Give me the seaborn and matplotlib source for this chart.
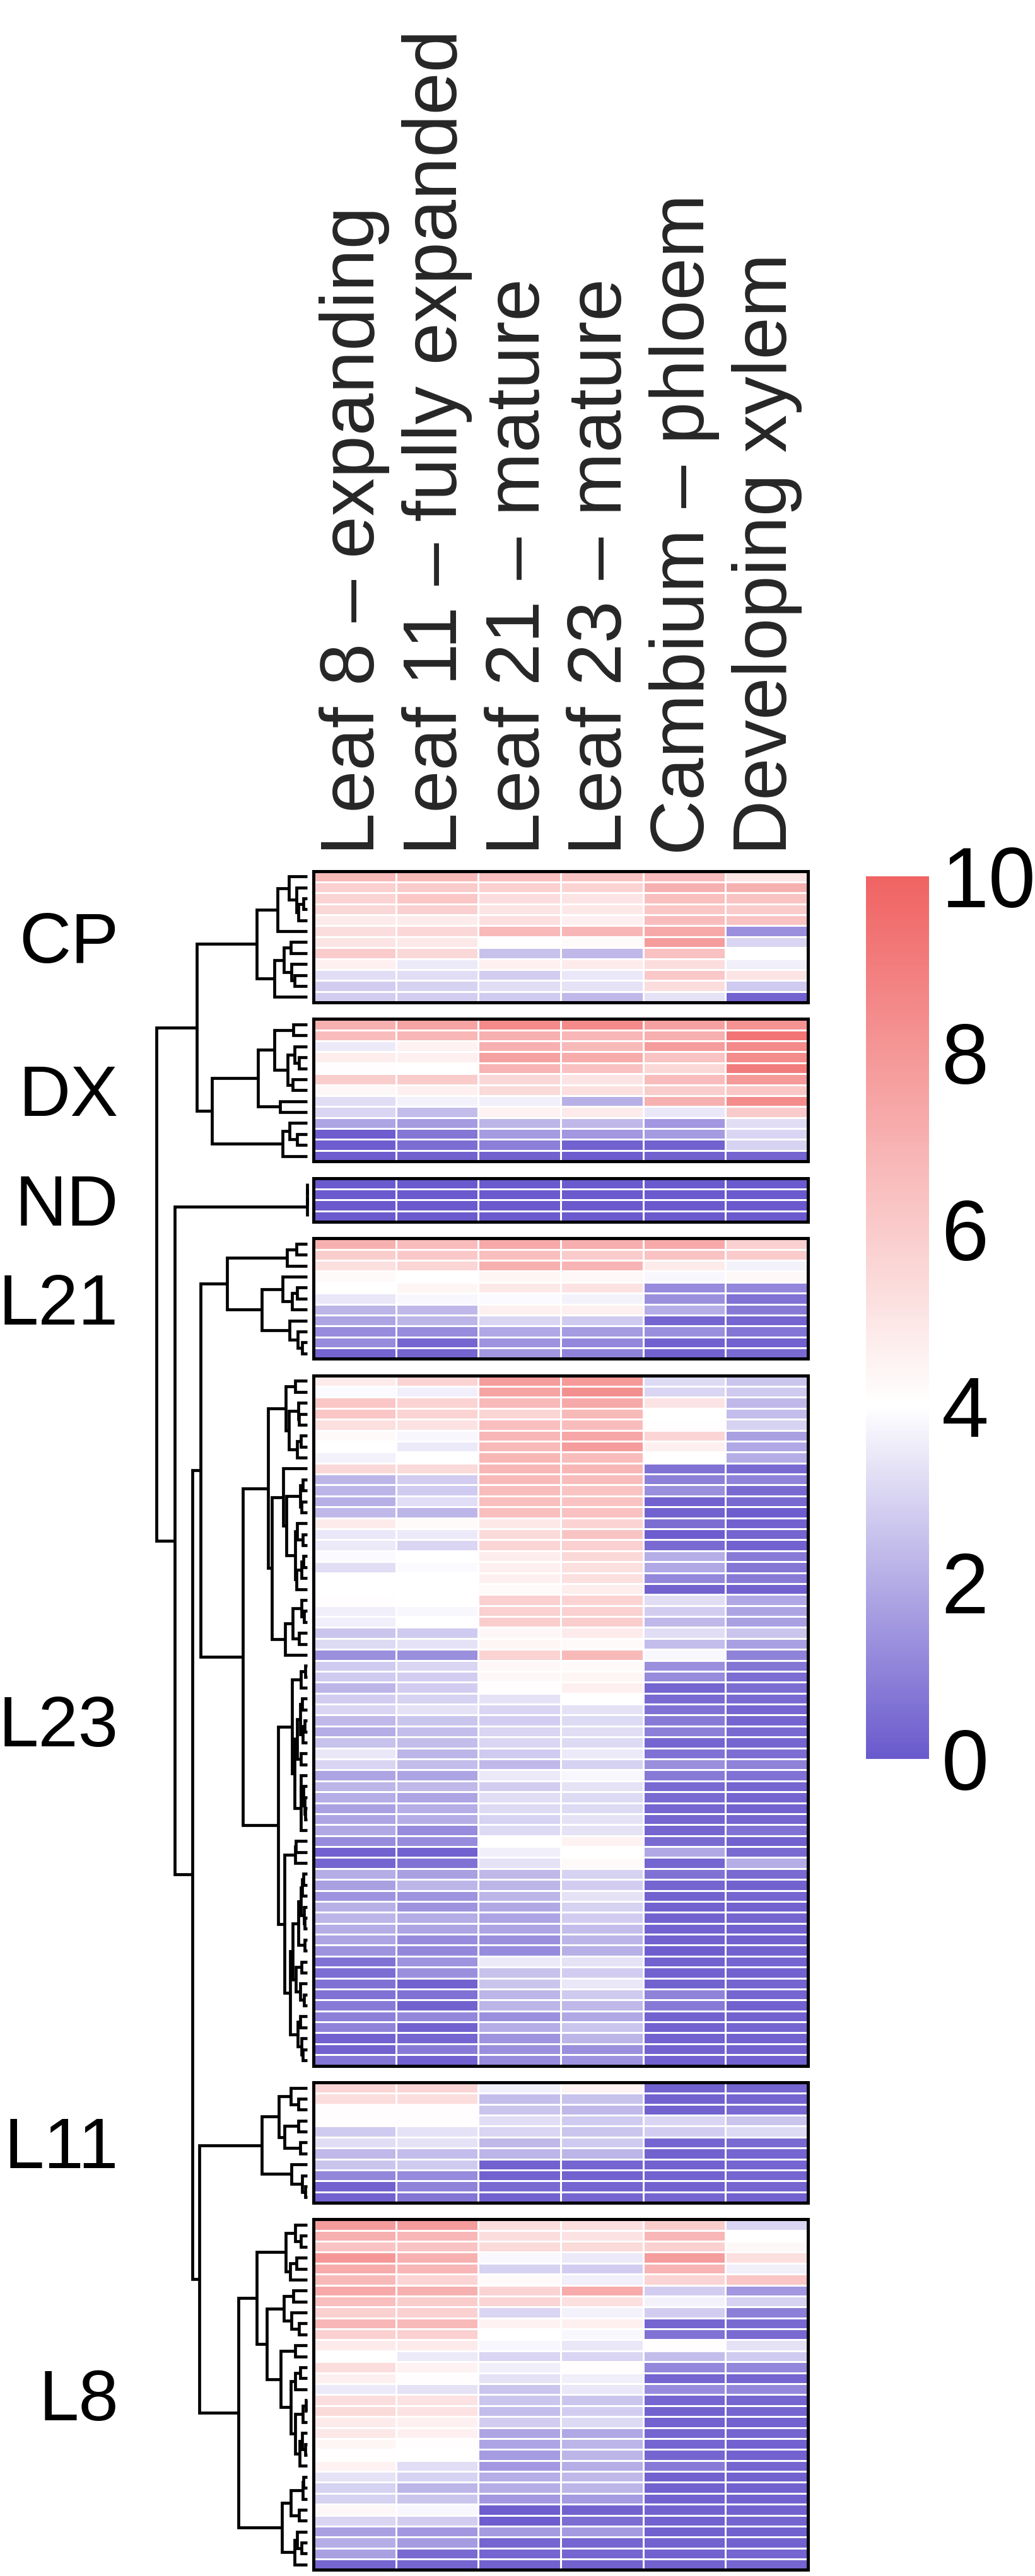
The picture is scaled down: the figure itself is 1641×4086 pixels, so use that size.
import numpy as np
import pandas as pd
import matplotlib
matplotlib.use("Agg")
import matplotlib.pyplot as plt
import seaborn as sns
from matplotlib.colors import LinearSegmentedColormap, Normalize
from matplotlib.cm import ScalarMappable

sns.set_theme(style="white")
plt.rcParams['font.family'] = ['Liberation Sans', 'DejaVu Sans']

# ---------------- data ----------------
col_labels = ["Leaf 8 \u2013 expanding", "Leaf 11 \u2013 fully expanded", "Leaf 21 \u2013 mature",
              "Leaf 23 \u2013 mature", "Cambium \u2013 phloem", "Developing xylem"]
group_names = ["CP", "DX", "ND", "L21", "L23", "L11", "L8"]

cp_values = [
    [6.7, 6.7, 6.5, 6.3, 6.6, 5.0],
    [5.8, 6.0, 5.8, 5.7, 7.0, 7.0],
    [5.7, 6.2, 5.3, 5.0, 6.5, 6.3],
    [5.5, 5.8, 5.0, 4.9, 6.2, 6.0],
    [4.8, 4.8, 5.2, 4.6, 6.6, 6.3],
    [5.3, 5.5, 6.7, 6.8, 7.3, 1.3],
    [5.0, 4.9, 4.1, 4.2, 7.8, 3.0],
    [6.0, 5.5, 2.5, 2.3, 6.4, 4.0],
    [4.6, 3.5, 4.6, 4.8, 5.3, 3.6],
    [3.2, 3.2, 2.8, 3.4, 6.1, 5.0],
    [2.8, 2.9, 3.2, 3.3, 5.3, 2.7],
    [2.8, 2.8, 2.7, 2.3, 3.3, 0.2],
]
dx_values = [
    [7.0, 7.5, 8.5, 8.5, 7.6, 8.2],
    [6.6, 6.8, 7.0, 6.8, 7.0, 9.3],
    [3.5, 4.5, 7.0, 6.7, 7.8, 8.5],
    [4.7, 4.6, 7.6, 7.2, 6.3, 8.4],
    [4.1, 4.0, 6.9, 6.4, 5.5, 9.0],
    [5.9, 6.0, 5.5, 5.0, 6.6, 7.9],
    [4.3, 4.6, 5.4, 5.2, 5.9, 6.2],
    [3.2, 3.7, 3.6, 2.1, 7.0, 8.4],
    [3.0, 2.4, 4.5, 4.8, 3.4, 6.0],
    [1.8, 1.6, 2.2, 2.3, 1.5, 3.2],
    [0.1, 0.7, 1.6, 1.5, 1.6, 3.0],
    [0.1, 0.5, 0.9, 0.2, 0.2, 2.9],
    [0.1, 0.2, 0.2, 0.1, 0.2, 0.3],
]
nd_values = [
    [0.0, 0.0, 0.0, 0.0, 0.0, 0.0],
    [0.0, 0.0, 0.0, 0.0, 0.0, 0.0],
    [0.0, 0.0, 0.0, 0.0, 0.0, 0.0],
    [0.0, 0.0, 0.0, 0.0, 0.0, 0.0],
]
l21_values = [
    [7.0, 6.6, 7.3, 7.1, 7.3, 5.8],
    [5.9, 6.1, 6.5, 6.0, 6.3, 6.0],
    [5.2, 5.6, 7.0, 6.9, 4.8, 3.7],
    [4.2, 4.0, 4.4, 4.3, 3.8, 4.3],
    [4.0, 4.4, 4.9, 5.1, 1.2, 1.1],
    [3.4, 3.8, 3.9, 3.7, 1.3, 0.6],
    [2.2, 2.3, 4.6, 4.6, 2.0, 0.8],
    [1.8, 2.2, 3.0, 2.7, 0.3, 0.3],
    [1.2, 1.2, 1.9, 1.6, 1.3, 0.7],
    [1.2, 0.3, 1.4, 1.1, 0.2, 0.2],
    [0.3, 0.3, 1.5, 1.0, 0.2, 0.4],
]
l23_values = [
    [4.8, 5.7, 7.8, 7.9, 3.1, 2.6],
    [3.9, 3.6, 7.5, 8.3, 3.0, 2.7],
    [6.2, 5.7, 6.7, 7.3, 5.0, 2.3],
    [6.2, 5.7, 5.6, 6.7, 4.0, 2.4],
    [5.2, 5.1, 6.5, 6.6, 4.1, 2.9],
    [4.2, 3.8, 6.8, 7.4, 5.6, 1.7],
    [4.0, 3.5, 6.7, 7.8, 4.6, 1.9],
    [3.7, 4.0, 6.8, 6.6, 4.0, 2.0],
    [5.5, 5.4, 6.8, 6.8, 0.6, 0.4],
    [2.2, 2.8, 6.7, 6.6, 0.9, 1.0],
    [2.2, 2.7, 6.6, 6.3, 1.3, 0.4],
    [2.1, 3.2, 6.5, 6.3, 0.2, 0.4],
    [2.3, 2.2, 6.5, 6.4, 0.2, 0.1],
    [4.8, 4.2, 4.9, 5.7, 0.5, 0.2],
    [3.4, 3.5, 5.4, 6.3, 0.1, 0.3],
    [3.5, 3.0, 5.6, 5.8, 0.4, 0.2],
    [3.9, 4.0, 4.7, 5.5, 2.0, 0.8],
    [3.2, 3.9, 4.6, 5.2, 1.9, 0.7],
    [4.0, 4.0, 4.6, 5.2, 1.1, 0.8],
    [4.0, 4.0, 4.2, 4.7, 0.2, 0.2],
    [4.1, 4.0, 5.8, 5.7, 3.2, 1.9],
    [3.6, 3.8, 5.8, 5.8, 2.8, 1.8],
    [3.6, 4.0, 5.9, 5.9, 2.3, 1.7],
    [2.6, 2.7, 4.3, 4.8, 3.2, 2.6],
    [3.1, 3.3, 4.4, 4.2, 2.4, 1.7],
    [1.3, 1.3, 5.7, 6.7, 3.8, 1.0],
    [2.7, 3.0, 4.3, 4.2, 1.3, 0.7],
    [2.7, 2.8, 4.3, 4.4, 1.2, 0.5],
    [2.2, 2.8, 4.1, 4.6, 0.3, 0.5],
    [2.8, 2.9, 3.3, 4.0, 0.4, 0.4],
    [3.0, 3.3, 3.0, 3.3, 0.6, 0.3],
    [2.3, 2.6, 2.8, 3.1, 0.8, 0.3],
    [2.0, 2.4, 3.0, 3.2, 0.9, 0.4],
    [2.5, 2.4, 3.0, 3.1, 0.3, 0.3],
    [3.4, 2.2, 2.7, 3.5, 0.6, 0.5],
    [3.0, 2.4, 2.3, 2.9, 1.3, 1.0],
    [1.8, 1.8, 3.5, 3.8, 0.8, 0.6],
    [2.2, 2.3, 2.8, 3.3, 0.4, 0.3],
    [2.0, 1.8, 3.2, 3.1, 0.4, 0.3],
    [1.7, 2.0, 3.1, 3.1, 0.3, 0.2],
    [1.8, 2.0, 2.9, 3.3, 0.3, 0.3],
    [1.9, 1.2, 3.1, 3.3, 0.3, 0.6],
    [1.2, 1.2, 4.0, 4.5, 0.4, 0.2],
    [0.2, 0.2, 3.6, 4.0, 1.9, 0.4],
    [0.3, 0.6, 3.3, 4.2, 0.3, 2.0],
    [2.0, 1.7, 2.3, 2.9, 0.6, 0.4],
    [1.7, 2.2, 2.2, 2.8, 0.3, 0.2],
    [1.4, 1.4, 2.2, 3.3, 0.2, 0.3],
    [2.1, 1.4, 1.9, 2.9, 0.2, 0.2],
    [2.2, 2.0, 1.8, 2.8, 0.2, 0.3],
    [2.0, 1.8, 1.8, 2.4, 0.2, 0.2],
    [1.8, 1.2, 1.3, 2.2, 0.2, 0.2],
    [1.4, 1.1, 1.2, 2.1, 0.1, 0.2],
    [0.6, 1.4, 3.5, 3.3, 0.2, 0.3],
    [0.5, 1.3, 2.5, 2.8, 0.2, 0.2],
    [0.6, 0.2, 2.6, 3.4, 0.2, 0.3],
    [0.6, 0.6, 2.2, 2.7, 1.0, 0.3],
    [0.8, 0.2, 2.2, 2.3, 0.8, 0.2],
    [0.9, 1.1, 1.3, 1.9, 0.2, 0.2],
    [1.0, 0.2, 2.0, 2.6, 0.2, 0.3],
    [0.2, 0.3, 1.4, 2.2, 0.2, 0.2],
    [0.2, 0.8, 1.3, 1.3, 0.2, 0.2],
    [0.7, 0.2, 1.2, 1.4, 0.2, 0.2],
]
l11_values = [
    [5.6, 5.6, 3.6, 4.5, 0.2, 0.3],
    [5.3, 5.3, 2.4, 2.5, 0.2, 0.3],
    [4.1, 4.1, 2.6, 2.3, 0.2, 0.4],
    [4.1, 4.1, 3.2, 2.7, 3.0, 2.6],
    [2.7, 3.3, 3.0, 2.6, 2.8, 3.1],
    [3.2, 3.3, 2.3, 2.7, 0.3, 0.4],
    [2.3, 2.4, 2.2, 2.2, 0.2, 0.3],
    [2.6, 2.7, 0.2, 0.3, 0.2, 0.3],
    [1.1, 1.2, 0.2, 0.2, 0.2, 0.3],
    [0.2, 1.0, 0.4, 0.3, 0.2, 0.3],
    [0.2, 0.7, 0.2, 0.3, 0.3, 0.2],
]
l8_values = [
    [7.8, 7.8, 5.3, 5.2, 5.9, 3.0],
    [7.0, 6.8, 5.3, 5.1, 6.8, 4.0],
    [6.3, 6.3, 5.4, 5.4, 5.8, 4.3],
    [8.0, 7.0, 3.8, 3.5, 7.8, 5.2],
    [7.2, 6.8, 2.9, 2.8, 6.9, 3.6],
    [6.7, 5.6, 4.2, 3.6, 5.6, 6.2],
    [7.3, 7.0, 5.7, 7.2, 2.8, 1.5],
    [6.5, 5.9, 5.6, 5.2, 3.7, 2.9],
    [5.8, 5.8, 3.0, 3.7, 2.8, 0.9],
    [6.8, 6.7, 4.5, 4.6, 0.3, 0.4],
    [5.8, 5.8, 4.0, 3.8, 0.6, 0.4],
    [4.8, 4.8, 3.8, 3.4, 4.1, 3.3],
    [4.0, 3.5, 3.0, 3.0, 2.4, 2.7],
    [5.3, 4.5, 3.6, 4.1, 1.1, 1.1],
    [4.6, 4.1, 3.3, 3.6, 0.3, 0.3],
    [3.5, 3.3, 2.6, 3.4, 1.2, 1.1],
    [5.3, 5.1, 2.6, 2.6, 0.3, 0.3],
    [5.4, 5.1, 2.4, 2.8, 0.2, 0.3],
    [4.8, 4.6, 2.8, 3.1, 0.2, 0.2],
    [4.9, 4.6, 1.8, 1.9, 0.3, 0.3],
    [4.4, 4.1, 1.8, 2.2, 0.3, 0.2],
    [4.1, 4.0, 1.6, 2.2, 0.3, 0.2],
    [4.5, 3.2, 1.5, 2.0, 0.8, 0.3],
    [3.3, 2.9, 2.0, 2.3, 0.2, 0.2],
    [2.9, 2.2, 2.0, 2.2, 0.2, 0.2],
    [2.9, 2.6, 1.5, 1.6, 0.2, 0.2],
    [4.3, 3.8, 0.1, 0.2, 0.2, 0.2],
    [3.0, 2.8, 0.1, 0.5, 0.2, 0.3],
    [1.7, 1.5, 1.6, 1.6, 0.2, 0.2],
    [2.0, 1.6, 0.3, 0.3, 0.2, 0.2],
    [1.7, 0.4, 0.3, 0.3, 0.2, 0.3],
    [0.3, 0.3, 0.2, 0.2, 0.2, 0.3],
]
group_values = [cp_values, dx_values, nd_values, l21_values, l23_values, l11_values, l8_values]

# height of each group's own sub-tree root (dendrogram distance units)
group_heights = [8.0, 15.1, 0.0, 12.7, 10.2, 7.2, 10.9]
# merges between groups: (left, right, height)
top_merges = [
    ("CP", "DX", 17.5),
    ("L21", "L23", 16.9),
    ("L11", "L8", 17.1),
    ("L21+L23", "L11+L8", 18.2),
    ("ND", "L21+L23+L11+L8", 21.0),
    ("CP+DX", "ND+L21+L23+L11+L8", 23.9),
]
legend_ticks = [0, 2, 4, 6, 8, 10]

# ---------------- layout (pixels) ----------------
W, H = 1641, 4086
DPI = 100
HM_X0, HM_X1 = 497, 1281
TOP = 1381.5
ROW = 17.38
GAP = 26.25
LEAF_X = 487
PX_PER_UNIT = 10.0


def px_rect(x, y, w, h):
    return [x / W, 1 - (y + h) / H, w / W, h / H]


cmap = LinearSegmentedColormap.from_list(
    "bwr_custom", [(0.0, "#6A5ACD"), (0.4, "#FFFFFF"), (1.0, "#F06363")])

fig = plt.figure(figsize=(W / DPI, H / DPI), dpi=DPI)

# group positions
group_tops = []
y = TOP
for vals in group_values:
    group_tops.append(y)
    y += len(vals) * ROW + GAP
BOTTOM = y - GAP

# ---------------- heatmaps ----------------
for gi, (name, vals) in enumerate(zip(group_names, group_values)):
    n = len(vals)
    ax = fig.add_axes(px_rect(HM_X0, group_tops[gi], HM_X1 - HM_X0, n * ROW))
    df = pd.DataFrame(vals, columns=col_labels)
    sns.heatmap(df, ax=ax, cmap=cmap, vmin=0, vmax=10, cbar=False,
                linewidths=2.0, linecolor="white",
                xticklabels=col_labels if gi == 0 else False,
                yticklabels=False)
    for sp in ax.spines.values():
        sp.set_visible(True)
        sp.set_linewidth(3.6)
        sp.set_color("black")
    if gi == 0:
        ax.xaxis.tick_top()
        ax.tick_params(axis="x", length=0, pad=18, labelsize=87,
                       labelrotation=90, top=True, bottom=False,
                       labeltop=True, labelbottom=False)
        for t in ax.get_xticklabels():
            t.set_va("bottom")
            t.set_ha("center")
    ax.set_xlabel("")
    ax.set_ylabel("")
    # group label
    center = group_tops[gi] + n * ROW / 2
    fig.text(188 / W, 1 - (center + 41) / H, name, ha="right", va="baseline",
             fontsize=82, color="black")

# ---------------- dendrogram ----------------
axd = fig.add_axes(px_rect(200, TOP, LEAF_X + 5 - 200, BOTTOM - TOP))
axd.set_xlim((LEAF_X - 200) / PX_PER_UNIT, -5 / PX_PER_UNIT)
axd.set_ylim(BOTTOM, TOP)
axd.axis("off")

LW = 3.4


def draw_merge(ya, ha, yb, hb, h):
    axd.plot([ha, h, h, hb], [ya, ya, yb, yb], color="black", lw=LW,
             solid_joinstyle="miter", solid_capstyle="butt", clip_on=False)


def constrained_linkage(vals, ys):
    v = np.asarray(vals, float)
    D = np.sqrt(((v[:, None, :] - v[None, :, :]) ** 2).sum(-1))
    clusters = [([i], ys[i], 0.0) for i in range(len(v))]
    merges = []
    while len(clusters) > 1:
        d = [D[np.ix_(clusters[k][0], clusters[k + 1][0])].max()
             for k in range(len(clusters) - 1)]
        k = int(np.argmin(d))
        a, b = clusters[k], clusters[k + 1]
        h = max(d[k], a[2], b[2])
        merges.append((a[1], a[2], b[1], b[2], h))
        clusters[k:k + 2] = [(a[0] + b[0], (a[1] + b[1]) / 2, h)]
    return merges, clusters[0]


nodes = {}
for gi, (name, vals) in enumerate(zip(group_names, group_values)):
    ys = [group_tops[gi] + (r + 0.5) * ROW for r in range(len(vals))]
    merges, root = constrained_linkage(vals, ys)
    s = group_heights[gi] / root[2] if root[2] > 0 else 1.0
    for ya, ha, yb, hb, h in merges:
        draw_merge(ya, ha * s, yb, hb * s, h * s)
    nodes[name] = (root[1], root[2] * s)

for a, b, h in top_merges:
    ya, ha = nodes[a]
    yb, hb = nodes[b]
    draw_merge(ya, ha, yb, hb, h)
    nodes[a + "+" + b] = ((ya + yb) / 2, h)

# ---------------- colour legend ----------------
cax = fig.add_axes(px_rect(1373, 1390, 100, 1400))
sm = ScalarMappable(norm=Normalize(vmin=0, vmax=10), cmap=cmap)
cb = fig.colorbar(sm, cax=cax, ticks=legend_ticks)
cb.outline.set_visible(False)
cax.minorticks_off()
cax.tick_params(axis="y", which="major", direction="in", length=18, width=3,
                color="white", left=True, right=True, labelleft=False,
                labelright=True, labelsize=97, pad=14, labelcolor="black")
cax.set_yticklabels([str(t) for t in legend_ticks])

fig.savefig("out.png", dpi=DPI)
